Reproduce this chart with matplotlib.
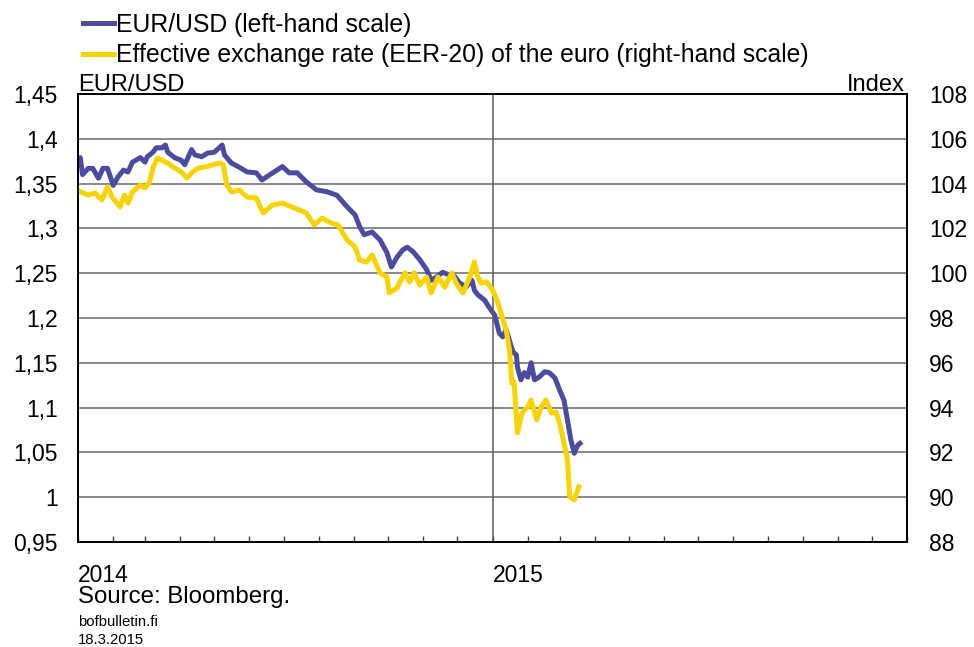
import numpy as np
import pandas as pd
import matplotlib
matplotlib.use('Agg')
import matplotlib.pyplot as plt
import matplotlib.dates as mdates
from matplotlib.ticker import FuncFormatter, MultipleLocator

plt.rcParams['font.family'] = ['Liberation Sans', 'DejaVu Sans']

# EUR/USD, left-hand scale
usd_dates = ['2014-01-01', '2014-01-03', '2014-01-05', '2014-01-10', '2014-01-14', '2014-01-19',
             '2014-01-23', '2014-01-27', '2014-02-01', '2014-02-05', '2014-02-10', '2014-02-14',
             '2014-02-18', '2014-02-25', '2014-03-01', '2014-03-03', '2014-03-08', '2014-03-11',
             '2014-03-16', '2014-03-19', '2014-03-21', '2014-03-27', '2014-04-02', '2014-04-05',
             '2014-04-11', '2014-04-14', '2014-04-20', '2014-04-25', '2014-05-01', '2014-05-08',
             '2014-05-10', '2014-05-16', '2014-05-22', '2014-05-30', '2014-06-07', '2014-06-12',
             '2014-06-19', '2014-06-30', '2014-07-06', '2014-07-13', '2014-07-21', '2014-07-30',
             '2014-08-08', '2014-08-17', '2014-08-26', '2014-09-02', '2014-09-06', '2014-09-10',
             '2014-09-17', '2014-09-24', '2014-09-30', '2014-10-04', '2014-10-09', '2014-10-14',
             '2014-10-18', '2014-10-23', '2014-10-29', '2014-11-04', '2014-11-08', '2014-11-13',
             '2014-11-18', '2014-11-24', '2014-11-29', '2014-12-03', '2014-12-09', '2014-12-14',
             '2014-12-16', '2014-12-19', '2014-12-25', '2014-12-29', '2015-01-03', '2015-01-07',
             '2015-01-10', '2015-01-13', '2015-01-19', '2015-01-22', '2015-01-23', '2015-01-26',
             '2015-01-29', '2015-02-01', '2015-02-04', '2015-02-07', '2015-02-11', '2015-02-16',
             '2015-02-20', '2015-02-25', '2015-03-01', '2015-03-05', '2015-03-08', '2015-03-11',
             '2015-03-14', '2015-03-17', '2015-03-19']
usd_values = [1.376, 1.379, 1.360, 1.367, 1.367, 1.356,
              1.367, 1.367, 1.348, 1.357, 1.365, 1.363,
              1.374, 1.379, 1.374, 1.380, 1.385, 1.390,
              1.390, 1.393, 1.385, 1.379, 1.376, 1.371,
              1.388, 1.382, 1.380, 1.384, 1.385, 1.393,
              1.382, 1.373, 1.369, 1.363, 1.362, 1.354,
              1.360, 1.369, 1.362, 1.362, 1.352, 1.343,
              1.341, 1.337, 1.324, 1.315, 1.302, 1.293,
              1.296, 1.287, 1.273, 1.257, 1.268, 1.276,
              1.279, 1.274, 1.265, 1.254, 1.242, 1.246,
              1.251, 1.248, 1.246, 1.239, 1.235, 1.242,
              1.231, 1.226, 1.220, 1.212, 1.203, 1.183,
              1.179, 1.187, 1.162, 1.159, 1.145, 1.131,
              1.139, 1.134, 1.150, 1.131, 1.134, 1.140,
              1.139, 1.133, 1.120, 1.108, 1.086, 1.064,
              1.049, 1.058, 1.060]

# EER-20 index, right-hand scale
eer_dates = ['2014-01-01', '2014-01-03', '2014-01-10', '2014-01-16', '2014-01-22', '2014-01-27',
             '2014-01-31', '2014-02-07', '2014-02-11', '2014-02-14', '2014-02-18', '2014-02-25',
             '2014-03-01', '2014-03-05', '2014-03-08', '2014-03-12', '2014-03-19', '2014-03-21',
             '2014-03-27', '2014-04-02', '2014-04-07', '2014-04-12', '2014-04-17', '2014-04-23',
             '2014-04-29', '2014-05-06', '2014-05-09', '2014-05-12', '2014-05-16', '2014-05-23',
             '2014-05-30', '2014-06-07', '2014-06-13', '2014-06-21', '2014-06-30', '2014-07-08',
             '2014-07-15', '2014-07-21', '2014-07-28', '2014-08-04', '2014-08-12', '2014-08-18',
             '2014-08-26', '2014-09-02', '2014-09-06', '2014-09-12', '2014-09-17', '2014-09-24',
             '2014-09-30', '2014-10-02', '2014-10-09', '2014-10-11', '2014-10-16', '2014-10-20',
             '2014-10-24', '2014-10-29', '2014-11-04', '2014-11-08', '2014-11-14', '2014-11-20',
             '2014-11-26', '2014-11-30', '2014-12-06', '2014-12-12', '2014-12-16', '2014-12-19',
             '2014-12-22', '2014-12-27', '2015-01-01', '2015-01-05', '2015-01-09', '2015-01-13',
             '2015-01-16', '2015-01-18', '2015-01-20', '2015-01-23', '2015-01-27', '2015-02-01',
             '2015-02-04', '2015-02-09', '2015-02-13', '2015-02-17', '2015-02-22', '2015-02-26',
             '2015-03-01', '2015-03-05', '2015-03-08', '2015-03-10', '2015-03-14', '2015-03-18']
eer_values = [103.71, 103.63, 103.49, 103.58, 103.27, 103.85,
              103.40, 102.96, 103.49, 103.13, 103.63, 103.94,
              103.80, 104.07, 104.70, 105.14, 104.96, 104.92,
              104.70, 104.52, 104.25, 104.52, 104.70, 104.74,
              104.83, 104.92, 104.83, 103.94, 103.63, 103.71,
              103.40, 103.36, 102.69, 103.04, 103.13, 102.96,
              102.82, 102.69, 102.15, 102.46, 102.24, 102.15,
              101.48, 101.17, 100.59, 100.50, 100.81, 100.01,
              99.83, 99.12, 99.34, 99.56, 100.01, 99.61,
              100.01, 99.47, 99.83, 99.12, 99.83, 99.38,
              100.01, 99.56, 99.12, 99.83, 100.50, 99.83,
              99.56, 99.61, 99.25, 98.80, 98.13, 97.46,
              96.57, 95.10, 95.14, 92.87, 93.76, 94.03,
              94.34, 93.45, 94.03, 94.34, 93.76, 93.80,
              93.31, 92.42, 91.66, 90.01, 89.88, 90.46]

usd_label = 'EUR/USD (left-hand scale)'
eer_label = 'Effective exchange rate (EER-20) of the euro (right-hand scale)'

blue = '#4a4d9f'
yellow = '#f7d300'

fig = plt.figure(figsize=(9.74, 6.47), dpi=100)
ax = fig.add_axes([78 / 974, 1 - 542 / 647, 829 / 974, 448 / 647])
ax2 = ax.twinx()

l1, = ax.plot(pd.to_datetime(usd_dates), usd_values, color=blue, lw=3.6, solid_joinstyle='round')
l2, = ax2.plot(pd.to_datetime(eer_dates), eer_values, color=yellow, lw=3.6, solid_joinstyle='round')

ax.set_xlim(pd.Timestamp('2014-01-01'), pd.Timestamp('2016-01-01'))
ax.set_ylim(0.95, 1.45)
ax2.set_ylim(88, 108)

ax.yaxis.set_major_locator(MultipleLocator(0.05))
ax.yaxis.set_major_formatter(FuncFormatter(lambda v, p: f'{round(v, 2):g}'.replace('.', ',')))
ax2.yaxis.set_major_locator(MultipleLocator(2))
ax.grid(axis='y', color='#6a6a6a', lw=1.1)
ax.axvline(pd.Timestamp('2015-01-01'), color='#5a5a5a', lw=1.1)

ax.tick_params(axis='y', length=0, pad=14.5, labelsize=16.5)
ax2.tick_params(axis='y', length=0, pad=16, labelsize=16.5)

ax.xaxis.set_major_locator(mdates.YearLocator())
ax.xaxis.set_minor_locator(mdates.MonthLocator())
ax.xaxis.set_major_formatter(plt.NullFormatter())
ax.tick_params(axis='x', which='both', direction='in', length=4, width=1, color='#404040')
ax2.tick_params(axis='x', which='both', length=0)

for sp in ax.spines.values():
    sp.set_color('black')
    sp.set_linewidth(1.3)
for sp in ax2.spines.values():
    sp.set_color('black')
    sp.set_linewidth(1.3)

for year in ['2014', '2015']:
    ax.text(pd.Timestamp(year + '-01-01'), -40 / 448, year, transform=ax.get_xaxis_transform(),
            ha='left', va='baseline', fontsize=16.5)

ax.text(0, 1.007, 'EUR/USD', transform=ax.transAxes, ha='left', va='baseline', fontsize=17)
ax.text(0.997, 1.007, 'Index', transform=ax.transAxes, ha='right', va='baseline', fontsize=17)

fig.legend([l1, l2], [usd_label, eer_label], loc='upper left', bbox_to_anchor=(83 / 974, 1 - 13 / 647),
           frameon=False, fontsize=17.8, handlelength=1.25, handletextpad=0.08, labelspacing=0.25,
           borderpad=0, borderaxespad=0)

fig.text(78 / 974, 1 - 603 / 647, 'Source: Bloomberg.', fontsize=17.3, va='baseline')
fig.text(78 / 974, 1 - 626 / 647, 'bofbulletin.fi', fontsize=10.7, va='baseline')
fig.text(78 / 974, 1 - 644 / 647, '18.3.2015', fontsize=10.7, va='baseline')

fig.savefig('out.png', dpi=100)
